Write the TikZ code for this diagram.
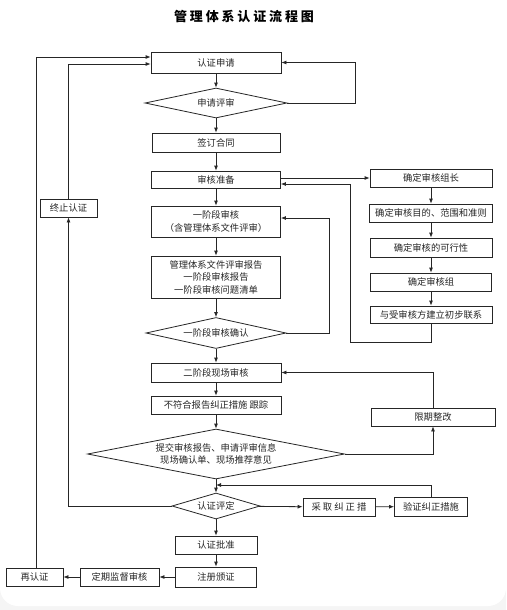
\documentclass[tikz,border=0pt]{standalone}
\usepackage{fontspec}
\setmainfont{Noto Sans CJK SC}
\newfontfamily\titlefont[LetterSpace=22]{Noto Sans CJK SC}
\usetikzlibrary{shapes.geometric,arrows.meta}

\begin{document}
\begin{tikzpicture}[x=1pt,y=-1pt, color=black!85, line width=0.8pt,
    >={Latex[length=5pt,width=4pt]},
    box/.style={draw, minimum height=18pt, inner sep=1pt, anchor=center, align=center, font=\fontsize{9.3}{12.5}\selectfont},
    dec/.style={draw, diamond, aspect=4.5, inner sep=0pt, anchor=center, align=center, font=\fontsize{9.3}{12.5}\selectfont}]
    \useasboundingbox (0,0) rectangle (506,610);
    \fill[black!4] (0,0) rectangle (506,610);
    \fill[white, rounded corners=18pt] (0,-30) rectangle (506,606);
    \node[color=black, font={\titlefont\bfseries\fontsize{13}{15}\selectfont}] (title) at (244,17) {管理体系认证流程图};
    % main column
    \node[box, minimum width=130pt, minimum height=21pt] (apply) at (216,62.5) {认证申请};
    \node[dec, minimum width=142pt, minimum height=30pt] (review) at (216,103) {申请评审};
    \node[box, minimum width=128pt, minimum height=19pt] (contract) at (216,142.5) {签订合同};
    \node[box, minimum width=129pt, minimum height=17pt] (prep) at (216,179.5) {审核准备};
    \node[box, minimum width=129pt, minimum height=31pt] (stage1) at (216,221.5) {一阶段审核\\（含管理体系文件评审）};
    \node[box, minimum width=129pt, minimum height=42pt] (report) at (216,277) {管理体系文件评审报告\\一阶段审核报告\\一阶段审核问题清单};
    \node[dec, minimum width=140pt, minimum height=31pt] (confirm) at (216,333) {一阶段审核确认};
    \node[box, minimum width=130pt, minimum height=19pt] (stage2) at (216,372.5) {二阶段现场审核};
    \node[box, minimum width=130pt] (track) at (216,405) {不符合报告纠正措施\ 跟踪};
    \node[dec, aspect=5.2, minimum width=257pt, minimum height=50pt] (submit) at (216,454) {提交审核报告、申请评审信息\\现场确认单、现场推荐意见};
    \node[dec, aspect=3.4, minimum width=88pt, minimum height=26pt] (decide) at (216,506) {认证评定};
    \node[box, minimum width=82pt] (approve) at (216,545) {认证批准};
    \node[box, minimum width=81pt, minimum height=20pt] (issue) at (216,577) {注册颁证};
    \node[box, minimum width=79pt] (survey) at (119.5,577) {定期监督审核};
    \node[box, minimum width=57pt] (recert) at (34.5,577) {再认证};
    \node[box, minimum width=57pt] (stop) at (68.5,208) {终止认证};
    % right column
    \node[box, minimum width=122pt] (leader) at (431,178) {确定审核组长};
    \node[box, minimum width=123pt] (scope) at (431,213) {确定审核目的、范围和准则};
    \node[box, minimum width=122pt, minimum height=19pt] (feas) at (431,247.5) {确定审核的可行性};
    \node[box, minimum width=121pt] (team) at (431,282) {确定审核组};
    \node[box, minimum width=122pt, minimum height=17pt] (contact) at (431,314.5) {与受审核方建立初步联系};
    \node[box, minimum width=124pt] (fix) at (433,417) {限期整改};
    \node[box, minimum width=72pt] (act) at (339,507) {采 取 纠 正 措};
    \node[box, minimum width=73pt, minimum height=19pt] (verify) at (431,506.5) {验证纠正措施};
    \coordinate (join) at (216,485);
    % connectors
    \draw[->] (apply) -- (review);
    \draw[->] (review) -- (contract);
    \draw[->] (contract) -- (prep);
    \draw[->] (prep) -- (stage1);
    \draw[->] (stage1) -- (report);
    \draw[->] (report) -- (confirm);
    \draw[->] (confirm) -- (stage2);
    \draw[->] (stage2) -- (track);
    \draw[->] (track) -- (submit);
    \draw (submit) -- (join);
    \draw[->] (join) -- (decide);
    \draw[->] (decide) -- (approve);
    \draw[->] (approve) -- (issue);
    \draw[->] (issue) -- (survey);
    \draw[->] (survey) -- (recert);
    \draw[->] (review.east) -- ++(68,0) |- (apply.east);
    \draw[->] (prep.east |- leader) -- (leader.west);
    \draw[->] (leader) -- (scope);
    \draw[->] (scope) -- (feas);
    \draw[->] (feas) -- (team);
    \draw[->] (team) -- (contact);
    \draw[->] (contact.south) |- (350,342) |- ([yshift=-4.5pt]prep.east);
    \draw[->] (confirm.east) -- ++(43,0) |- ([yshift=3.5pt]stage1.east);
    \draw[->] (submit.east) -| (fix.south);
    \draw[->] (fix.north) |- (stage2.east);
    \draw[->] (decide) -- (act);
    \draw[->] (act) -- (verify);
    \draw[->] (verify.north) |- (join);
    \draw[->] (decide.west) -| (stop.south);
    \draw[->] (stop.north) |- ([yshift=-1.5pt]apply.west);
    \draw[->] ([xshift=1.5pt]recert.north) |- ([yshift=5.5pt]apply.west);
\end{tikzpicture}
\end{document}
